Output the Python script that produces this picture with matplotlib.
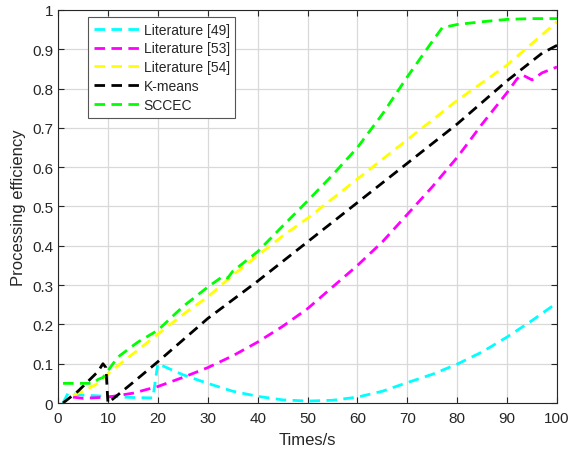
"""Processing efficiency vs time, dashed lines"""
import matplotlib
matplotlib.use("Agg")
from matplotlib import pyplot as plt

plt.rcParams['font.family'] = ['Liberation Sans', 'DejaVu Sans']
plt.rcParams['text.color'] = '#262626'
plt.rcParams['axes.labelcolor'] = '#262626'
plt.rcParams['xtick.color'] = '#262626'
plt.rcParams['ytick.color'] = '#262626'

# Literature [49]
x49 = [1, 2, 5, 10, 15, 19, 20, 25, 30, 35, 40, 45, 50, 55, 60, 65, 70, 75, 80, 85, 90, 95, 100]
y49 = [0.0, 0.025, 0.02, 0.017, 0.014, 0.013, 0.1, 0.072, 0.05, 0.03, 0.017, 0.008, 0.005,
       0.007, 0.015, 0.03, 0.052, 0.073, 0.099, 0.13, 0.168, 0.21, 0.255]
# Literature [53]
x53 = [3, 5, 10, 15, 20, 25, 30, 35, 40, 45, 50, 55, 60, 65, 70, 75, 80, 85, 90, 92, 93, 95, 97, 100]
y53 = [0.015, 0.012, 0.015, 0.025, 0.042, 0.065, 0.09, 0.12, 0.155, 0.195, 0.24, 0.295, 0.35,
       0.41, 0.48, 0.55, 0.625, 0.71, 0.79, 0.825, 0.835, 0.822, 0.84, 0.855]
# Literature [54]
x54 = [3, 5, 8, 10, 15, 20, 25, 30, 35, 40, 45, 50, 55, 60, 65, 70, 75, 80, 85, 90, 95, 100]
y54 = [0.02, 0.03, 0.05, 0.075, 0.125, 0.175, 0.225, 0.27, 0.325, 0.375, 0.425, 0.47, 0.52,
       0.57, 0.62, 0.67, 0.72, 0.77, 0.815, 0.86, 0.915, 0.97]
# K-means
xkm = [1, 4, 8, 9, 9.6, 10, 15, 20, 25, 30, 40, 50, 60, 70, 80, 90, 97, 100]
ykm = [0.0, 0.03, 0.08, 0.1, 0.09, 0.0, 0.052, 0.105, 0.16, 0.215, 0.31, 0.41, 0.51, 0.61,
       0.71, 0.82, 0.89, 0.91]
# SCCEC
xsc = [1, 7, 8, 9, 12, 16, 20, 25, 30, 33, 34, 35, 40, 45, 50, 55, 60, 65, 70, 75, 77, 80, 85, 90, 95, 100]
ysc = [0.05, 0.05, 0.06, 0.065, 0.117, 0.155, 0.185, 0.245, 0.295, 0.322, 0.318, 0.335, 0.385,
       0.45, 0.514, 0.58, 0.65, 0.735, 0.83, 0.92, 0.955, 0.963, 0.97, 0.976, 0.978, 0.978]

series = [
    (x49, y49, (0, 1, 1), 'Literature [49]'),
    (x53, y53, (1, 0, 1), 'Literature [53]'),
    (x54, y54, (1, 1, 0), 'Literature [54]'),
    (xkm, ykm, (0, 0, 0), 'K-means'),
    (xsc, ysc, (0, 1, 0), 'SCCEC'),
]

fig = plt.figure(figsize=(5.69, 4.56), dpi=100)
ax = fig.add_axes([0.102, 0.114, 0.877, 0.862])

for x, y, c, lab in series:
    ax.plot(x, y, color=c, linewidth=2.0, dashes=(3.8, 2.3), label=lab)

ax.set_xlim(0, 100)
ax.set_ylim(0, 1)
ax.set_xticks(range(0, 101, 10))
ax.set_yticks([i / 10 for i in range(11)])
ax.set_yticklabels(['0'] + [f'{i / 10:g}' for i in range(1, 11)])
ax.grid(True, color='#d9d9d9', linewidth=0.9)
ax.set_axisbelow(True)
ax.tick_params(direction='in', top=True, right=True, labelsize=11, length=4)
ax.tick_params(axis='x', pad=6)
for s in ax.spines.values():
    s.set_linewidth(0.8)
    s.set_color('#262626')
ax.set_xlabel('Times/s', fontsize=12, labelpad=5)
ax.set_ylabel('Processing efficiency', fontsize=12)

leg = ax.legend(loc='upper left', bbox_to_anchor=(0.06, 0.982), borderaxespad=0,
                fontsize=10, handlelength=3.3, fancybox=False, framealpha=1,
                borderpad=0.4, labelspacing=0.35, handletextpad=0.3)
leg.get_frame().set_edgecolor('#555555')
leg.get_frame().set_linewidth(0.8)

fig.savefig('out.png', dpi=100)
